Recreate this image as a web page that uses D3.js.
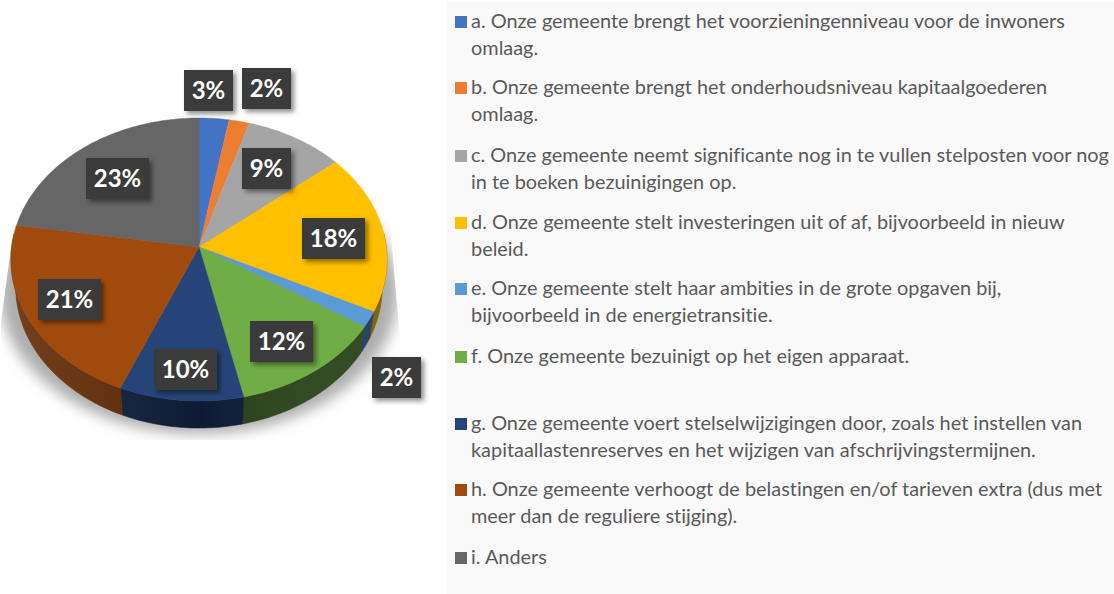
<!DOCTYPE html>
<html>
<head>
<meta charset="utf-8">
<script src="https://cdn.jsdelivr.net/npm/d3@7"></script>
<style>
  html, body { margin: 0; padding: 0; background: #fff; }
  svg { display: block; }
  text { font-family: Lato, "Open Sans", sans-serif; font-variant-ligatures: none; }
</style>
</head>
<body>
<svg id="chart" width="1114" height="594"></svg>
<script>
const categories = ["a", "b", "c", "d", "e", "f", "g", "h", "i"];
// percentages estimated from the slice edges, they round to the printed labels
const values = [2.8, 1.9, 9.3, 18.3, 1.8, 12.4, 9.8, 21.2, 22.5];
const topColors = ["#4472c4", "#ed7d31", "#a5a5a5", "#ffc000", "#5b9bd5", "#70ad47", "#264478", "#a14a0e", "#666666"];
const wallColors = ["#22395f", "#7a3f18", "#525252", "#7f6000", "#1f3d5f", "#2c451c", "#0f1e3a", "#622a04", "#333333"];
const legendLines = [
  ["a. Onze gemeente brengt het voorzieningenniveau voor de inwoners", "omlaag."],
  ["b. Onze gemeente brengt het onderhoudsniveau kapitaalgoederen", "omlaag."],
  ["c. Onze gemeente neemt significante nog in te vullen stelposten voor nog", "in te boeken bezuinigingen op."],
  ["d. Onze gemeente stelt investeringen uit of af, bijvoorbeeld in nieuw", "beleid."],
  ["e. Onze gemeente stelt haar ambities in de grote opgaven bij,", "bijvoorbeeld in de energietransitie."],
  ["f. Onze gemeente bezuinigt op het eigen apparaat."],
  ["g. Onze gemeente voert stelselwijzigingen door, zoals het instellen van", "kapitaallastenreserves en het wijzigen van afschrijvingstermijnen."],
  ["h. Onze gemeente verhoogt de belastingen en/of tarieven extra (dus met", "meer dan de reguliere stijging)."],
  ["i. Anders"]
];
const legendRows = [22, 88, 156, 223, 289, 357, 424, 490, 558];
// label box centres
const labelX = [208.5, 266.5, 266.5, 333.5, 396.5, 281.5, 185.5, 69.5, 117.5];
const labelY = [90.5, 88.5, 168.5, 238.5, 377.5, 341.5, 369.5, 299.5, 178.5];

const svg = d3.select("#chart");
const defs = svg.append("defs");

const blur = defs.append("filter").attr("id", "blur")
  .attr("x", "-20%").attr("y", "-20%").attr("width", "140%").attr("height", "140%");
blur.append("feGaussianBlur").attr("stdDeviation", 7);

const boxShadow = defs.append("filter").attr("id", "boxShadow")
  .attr("x", "-20%").attr("y", "-20%").attr("width", "150%").attr("height", "150%");
boxShadow.append("feDropShadow").attr("dx", 3).attr("dy", 3).attr("stdDeviation", 2.5)
  .attr("flood-color", "#000").attr("flood-opacity", 0.45);

const wallShade = defs.append("linearGradient").attr("id", "wallShade")
  .attr("gradientUnits", "userSpaceOnUse")
  .attr("x1", 10).attr("x2", 390).attr("y1", 0).attr("y2", 0);
wallShade.append("stop").attr("offset", 0).attr("stop-color", "#fff").attr("stop-opacity", 0.1);
wallShade.append("stop").attr("offset", 0.5).attr("stop-color", "#000").attr("stop-opacity", 0.12);
wallShade.append("stop").attr("offset", 1).attr("stop-color", "#fff").attr("stop-opacity", 0.03);

// the shadow stops hard at the edges of its picture
defs.append("clipPath").attr("id", "shadowClip")
  .append("polygon")
  .attr("points", "14,225 1,322 1,440 400,440 400,340 388,200");

// pie seen in perspective, the far side is a bit flattened
const cx = 199, cy = 247, A = 187.3, B = 140.4, k = 0.0884, depth = 27, wallScale = 0.975;
function project(phi) {
  const w = 1 + k * Math.cos(phi);
  return [cx + A * Math.sin(phi) / w, cy - B * Math.cos(phi) / w];
}
function projectBottom(phi) {
  const p = project(phi);
  return [cx + (p[0] - cx) * wallScale, p[1] + depth];
}
function sampleArc(a0, a1) {
  const n = Math.max(2, Math.ceil((a1 - a0) / 0.02));
  return d3.range(n + 1).map(i => a0 + (a1 - a0) * i / n);
}

const pie = d3.pie().sort(null)(values);
const line = d3.line();

// legend panel
svg.append("rect").attr("x", 447).attr("y", 2).attr("width", 667).attr("height", 592).attr("fill", "#f9f9f9");

// soft shadow round the pie
const shadowPts = sampleArc(0, Math.PI * 2).map(project).map(p => [cx + (p[0] - cx) * 1.06, p[1] + 33]);
svg.append("g").attr("clip-path", "url(#shadowClip)")
  .append("path")
  .attr("d", line(shadowPts) + "Z")
  .attr("fill", "#adadad")
  .attr("filter", "url(#blur)");

const walls = svg.append("g");
const visible = pie.map(d => ({
  d: d,
  a0: Math.max(d.startAngle, Math.PI * 0.47),
  a1: Math.min(d.endAngle, Math.PI * 1.53)
})).filter(s => s.a1 > s.a0);
visible.forEach(s => {
  const angles = sampleArc(s.a0, s.a1);
  const pts = angles.map(project).concat(angles.slice().reverse().map(projectBottom));
  const path = line(pts) + "Z";
  walls.append("path").attr("d", path).attr("fill", wallColors[s.d.index])
    .attr("stroke", wallColors[s.d.index]).attr("stroke-width", 0.5);
  walls.append("path").attr("d", path).attr("fill", "url(#wallShade)");
});

svg.append("g").selectAll("path")
  .data(pie)
  .join("path")
  .attr("d", d => {
    const pts = sampleArc(d.startAngle, d.endAngle).map(project);
    pts.unshift([cx, cy]);
    return line(pts) + "Z";
  })
  .attr("fill", (d, i) => topColors[i])
  .attr("stroke", (d, i) => topColors[i])
  .attr("stroke-width", 0.4);

// value labels
const labels = svg.append("g").selectAll("g")
  .data(values)
  .join("g")
  .attr("transform", (d, i) => `translate(${labelX[i]},${labelY[i]})`);
labels.append("rect")
  .attr("x", d => Math.round(d) >= 10 ? -31.5 : -24.5)
  .attr("y", -20.5)
  .attr("width", d => Math.round(d) >= 10 ? 63 : 49)
  .attr("height", 41)
  .attr("fill", "#3b3b3b")
  .attr("filter", "url(#boxShadow)");
labels.append("text")
  .attr("text-anchor", "middle")
  .attr("y", 8.5)
  .attr("font-size", 24)
  .attr("font-weight", 700)
  .attr("fill", "#fff")
  .text(d => Math.round(d) + "%");

// legend
const legend = svg.append("g").selectAll("g")
  .data(categories)
  .join("g")
  .attr("transform", (d, i) => `translate(455,${legendRows[i]})`);
legend.append("rect")
  .attr("y", -6).attr("width", 12).attr("height", 12)
  .attr("fill", (d, i) => topColors[i]);
legend.each(function (d, i) {
  d3.select(this).selectAll("text")
    .data(legendLines[i])
    .join("text")
    .attr("x", 16)
    .attr("y", (t, j) => 6 + j * 26.5)
    .attr("font-size", 19.9)
    .attr("fill", "#595959")
    .text(t => t);
});
</script>
</body>
</html>
